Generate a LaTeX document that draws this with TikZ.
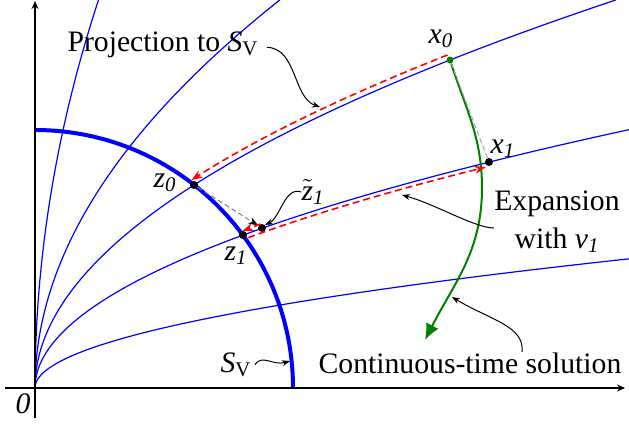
\documentclass[tikz,border=0pt]{standalone}
\usepackage{fontspec}
\setmainfont{Liberation Serif}
\usepackage{xcolor}
\usetikzlibrary{arrows.meta}
\definecolor{trajblue}{RGB}{0,0,255}
\definecolor{solgreen}{RGB}{0,128,0}
\tikzset{
    traj/.style={trajblue, line width=0.6pt},
    svarc/.style={trajblue, line width=2pt},
    axarr/.style={-{Stealth[length=4pt,width=3.5pt]}, line width=0.7pt},
    ptdot/.style={circle, fill=#1, inner sep=0pt, minimum size=4pt},
    ptdot/.default=black,
    redarr/.style={red, line width=0.8pt, dash pattern=on 3.5pt off 2pt,
                   -{Stealth[length=5.5pt,width=4pt]}},
    grayarr/.style={gray, line width=0.5pt, dash pattern=on 2.5pt off 1.5pt},
    solarr/.style={solgreen, line width=1pt, -{Latex[length=8pt,width=7pt]}},
    notearr/.style={-{Stealth[length=4pt,width=3pt]}, line width=0.5pt},
    lbl/.style={font=\fontsize{14.85}{19}\selectfont, inner sep=0pt},
}

\begin{document}
\begin{tikzpicture}[x=0.5pt, y=0.5pt]
    \useasboundingbox (-35,-37) rectangle (594,388);
    \begin{scope}
        \clip (-35,-37) rectangle (594,388);
        \foreach \a/\ym in {5.3/130, 10.6/259, 16.1/388, 24.8/388, 48.7/388}
            \draw[traj] plot[variable=\t, domain=0:\ym, samples=80, smooth] ({(\t/\a)^2}, \t);
    \end{scope}
    \draw[svarc] (0,258) arc[start angle=90, end angle=0, radius=258];
    \draw[axarr] (-30,0) -- (590,0);
    \draw[axarr] (0,-30) -- (0,387);

    \node[ptdot] (z0) at (159,203) {};
    \node[ptdot] (z1) at (208,153) {};
    \node[ptdot] (zt1) at (227,160) {};
    \node[ptdot] (x1) at (454,226) {};
    \node[ptdot=solgreen, minimum size=3.5pt] (x0) at (415,328) {};

    \coordinate (gmid) at (447,200);
    \coordinate (gend) at (390,48);
    \draw[solarr] (x0) to[out=-72, in=90] (gmid) to[out=-90, in=63] (gend);
    \draw[grayarr, gray!70] (x0) -- (x1);
    \draw[grayarr, -{Stealth[length=5pt,width=3.5pt,color=black]}] (z0) -- (zt1);

    \draw[redarr] ([shift={(-2.5,5)}]x0.center)
        to[out=201.6, in=32.6, out distance=56.7pt, in distance=38.7pt]
        ([shift={(-2.5,5)}]z0.center);
    \draw[redarr] ([shift={(-1.5,4)}]zt1.center) -- ([shift={(-0.5,4)}]z1.center);
    \draw[redarr, shorten <=2pt, shorten >=2.5pt] ([shift={(1.5,-4)}]z1.center)
        to[out=20.1, in=193.9, out distance=35.3pt, in distance=50.4pt]
        ([shift={(1.5,-4)}]x1.center);

    \node[lbl, anchor=base] (projlbl) at (128,337) {Projection to \textit{S}\textsubscript{V}};
    \node[lbl, anchor=base] (x0lbl) at (406,345) {\textit{x}\textsubscript{\textit{0}}};
    \node[lbl, anchor=base] (x1lbl) at (468,235) {\textit{x}\textsubscript{\textit{1}}};
    \node[lbl, anchor=base] (z0lbl) at (130,201) {\textit{z}\textsubscript{\textit{0}}};
    \node[lbl, anchor=base] (z1lbl) at (201,128) {\textit{z}\textsubscript{\textit{1}}};
    \node[lbl, anchor=base] (ztlbl) at (278,188) {$\tilde{\mbox{\textit{z}}}$\textsubscript{\textit{1}}};
    \node[lbl, align=center] (explbl) at (522,166) {Expansion\\with \textit{v}\textsubscript{\textit{1}}};
    \node[lbl, anchor=base] (ctlbl) at (435,15) {Continuous-time solution};
    \node[lbl, anchor=base] (svlbl) at (201,16) {\textit{S}\textsubscript{V}};
    \node[lbl, anchor=base] (olbl) at (-12,-25) {\textit{0}};

    \coordinate (projtip) at (285,281);
    \coordinate (svtip) at (255,27);
    \coordinate (exptip) at (367,193);
    \coordinate (cttip) at (417,91);
    \draw[notearr] ([xshift=4pt,yshift=-1.5pt]projlbl.east) .. controls (262,340) and (258,290) .. (projtip);
    \draw[notearr] ([xshift=1.5pt]svlbl.east) .. controls (228,34) and (238,22) .. (svtip);
    \draw[notearr] (ztlbl.west) .. controls (250,202) and (245,170) .. (zt1.north east);
    \draw[notearr] ([yshift=-3pt]explbl.west) .. controls (440,160) and (400,184) .. (exptip);
    \draw[notearr] ([xshift=26pt]ctlbl.north) .. controls (490,62) and (455,68) .. (cttip);
\end{tikzpicture}
\end{document}
